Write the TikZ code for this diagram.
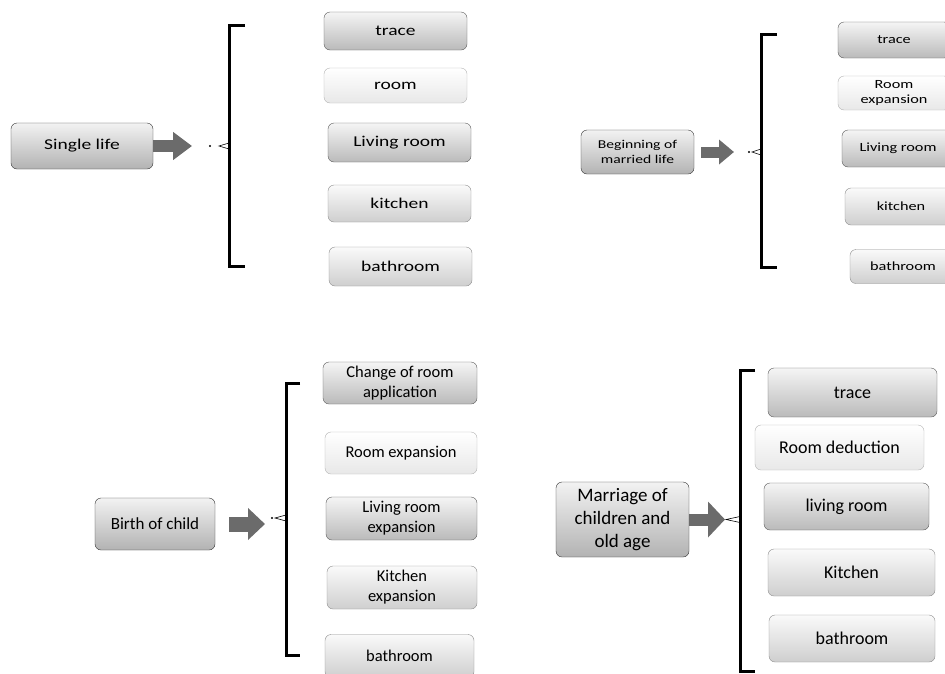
\documentclass[tikz,border=0pt]{standalone}
\usepackage{fontspec}
\setmainfont{Carlito}
\newfontfamily\widefont[FakeStretch=1.3]{Carlito}
\usetikzlibrary{arrows.meta}

\begin{document}
\begin{tikzpicture}[x=1pt, y=-1pt,
                    box/.style={rectangle, rounded corners=6pt, inner sep=2pt, align=center},
                    stage/.style={box, draw=black!80, top color=black!5, bottom color=black!30},
                    darkbox/.style={box, draw=black!65, top color=black!4, bottom color=black!27},
                    midbox/.style={box, draw=black!45, top color=black!2, bottom color=black!19},
                    lightbox/.style={box, draw=black!30, top color=white, bottom color=black!9},
                    bigarrow/.style={draw=black!58, line width=12pt},
                    bracket/.style={draw=black, line width=3pt},
                    cusp/.style={draw=black, line width=0.6pt}
                ]
                \useasboundingbox (0,0) rectangle (945,673);
                \clip (0,0) rectangle (945,673);

                % Single life
                \node[stage, minimum width=142pt, minimum height=46pt, font=\widefont\fontsize{15}{18}\selectfont] (single) at (82,146) {Single life};
                \coordinate (tip1) at (192,146);
                \draw[bigarrow, -{Triangle[length=19pt, width=27pt]}] (single.east) -- (tip1);
                \fill (210,146) circle (1.2pt);
                \draw[bracket] (245,25) -- (229,25) -- (229,266) -- (245,266);
                \draw[cusp] (229,143) -- (219,146) -- (229,149);

                \begin{scope}[every node/.append style={minimum width=143pt, font=\widefont\fontsize{15}{18}\selectfont}]
                \node[darkbox, minimum height=38pt] (t1) at (395.5,31) {trace};
                \node[lightbox, minimum height=35pt] (r1) at (395.5,85.5) {room};
                \node[darkbox, minimum height=39pt] (l1) at (399.5,142.5) {Living room};
                \node[midbox, minimum height=37pt] (k1) at (399.5,203.5) {kitchen};
                \node[midbox, minimum height=39pt] (b1) at (400.5,266.5) {bathroom};
                \end{scope}

                % Beginning of married life
                \node[stage, minimum width=113pt, minimum height=44pt, font=\widefont\fontsize{12}{14.5}\selectfont] (married) at (637.5,152) {Beginning of\\married life};
                \coordinate (tip2) at (734,152);
                \draw[bigarrow, line width=11pt, shorten <=7pt, -{Triangle[length=15pt, width=24pt]}] (married.east) -- (tip2);
                \fill (749,152) circle (1.2pt);
                \draw[bracket] (777,34) -- (761,34) -- (761,267) -- (777,267);
                \draw[cusp] (761,149) -- (752,152) -- (761,155);

                \begin{scope}[every node/.append style={minimum width=112pt, font=\widefont\fontsize{12.5}{15}\selectfont}]
                \node[darkbox, minimum height=36pt] (t2) at (894,40) {trace};
                \node[lightbox, minimum height=34pt] (r2) at (894,93) {Room\\expansion};
                \node[darkbox, minimum height=37pt] (l2) at (898,148.5) {Living room};
                \node[midbox, minimum height=37pt] (k2) at (901,206.5) {kitchen};
                \node[midbox, minimum height=34pt, minimum width=106pt] (b2) at (903,266.5) {bathroom};
                \end{scope}

                % Birth of child
                \node[stage, minimum width=120pt, minimum height=52pt, font=\fontsize{17}{20}\selectfont] (birth) at (155,524) {Birth of child};
                \coordinate (tip3) at (265,524);
                \draw[bigarrow, line width=15pt, shorten <=14pt, -{Triangle[length=17pt, width=31pt]}] (birth.east) -- (tip3);
                \fill (272,518) circle (1.2pt);
                \draw[bracket] (300,383) -- (286,383) -- (286,655) -- (300,655);
                \draw[cusp] (286,515) -- (275,518) -- (286,521);

                \begin{scope}[every node/.append style={font=\fontsize{16.5}{20}\selectfont}]
                \node[darkbox, minimum width=154pt, minimum height=42pt] (c3) at (400,383) {Change of room\\application};
                \node[lightbox, minimum width=152pt, minimum height=42pt] (r3) at (401,453) {Room expansion};
                \node[darkbox, minimum width=151pt, minimum height=43pt] (l3) at (401.5,518.5) {Living room\\expansion};
                \node[midbox, minimum width=150pt, minimum height=43pt] (k3) at (402,587.5) {Kitchen\\expansion};
                \node[midbox, minimum width=149pt, minimum height=43pt] (b3) at (399.5,656) {bathroom};
                \end{scope}

                % Marriage of children and old age
                \node[stage, minimum width=133pt, minimum height=75pt, font=\fontsize{19}{23}\selectfont] (oldage) at (622.5,519.5) {Marriage of\\children and\\old age};
                \coordinate (tip4) at (725,519.5);
                \draw[bigarrow, -{Triangle[length=17pt, width=35pt]}] (oldage.east) -- (tip4);
                \draw[bracket] (755,370) -- (740,370) -- (740,671) -- (755,671);
                \draw[cusp] (740,516.5) -- (726,519.5) -- (740,522.5);

                \begin{scope}[every node/.append style={font=\fontsize{18}{22}\selectfont}]
                \node[darkbox, minimum width=169pt, minimum height=49pt] (t4) at (852.5,392.5) {trace};
                \node[lightbox, minimum width=169pt, minimum height=45pt] (r4) at (839.5,447.5) {Room deduction};
                \node[darkbox, minimum width=165pt, minimum height=47pt] (l4) at (846.5,506.5) {living room};
                \node[midbox, minimum width=167pt, minimum height=47pt] (k4) at (851.5,572.5) {Kitchen};
                \node[midbox, minimum width=166pt, minimum height=47pt] (b4) at (852,638.5) {bathroom};
                \end{scope}
            \end{tikzpicture}
\end{document}
